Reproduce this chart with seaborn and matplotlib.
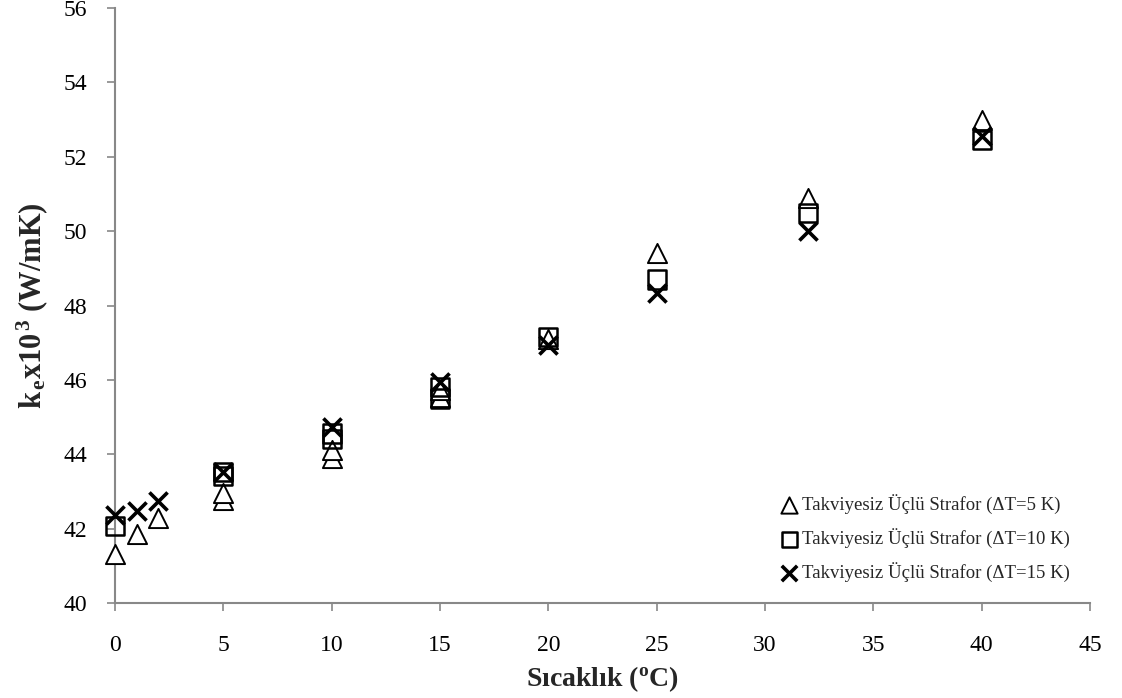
import matplotlib
matplotlib.use("Agg")
import matplotlib.pyplot as plt
import seaborn as sns
import pandas as pd

# ---- data ----
x_dt5 = [0, 1, 2, 5, 5, 10, 10, 15, 15, 20, 25, 32, 40]
y_dt5 = [41.32, 41.85, 42.3, 42.78, 42.96, 43.9, 44.12, 45.55, 45.72, 47.1, 49.4, 50.9, 53.0]

x_dt10 = [0, 5, 5, 10, 10, 15, 15, 20, 25, 32, 40]
y_dt10 = [42.07, 43.42, 43.52, 44.4, 44.56, 45.5, 45.8, 47.15, 48.7, 50.5, 52.45]

x_dt15 = [0, 1, 2, 5, 10, 15, 20, 25, 32, 40]
y_dt15 = [42.37, 42.47, 42.74, 43.52, 44.73, 45.95, 46.95, 48.35, 50.0, 52.55]

labels = ["Takviyesiz Üçlü Strafor (ΔT=5 K)",
          "Takviyesiz Üçlü Strafor (ΔT=10 K)",
          "Takviyesiz Üçlü Strafor (ΔT=15 K)"]
x_ticks = [0, 5, 10, 15, 20, 25, 30, 35, 40, 45]
y_ticks = [40, 42, 44, 46, 48, 50, 52, 54, 56]

df5 = pd.DataFrame({"x": x_dt5, "y": y_dt5})
df10 = pd.DataFrame({"x": x_dt10, "y": y_dt10})
df15 = pd.DataFrame({"x": x_dt15, "y": y_dt15})

sns.set_theme(style="white")
plt.rcParams["font.family"] = ["Liberation Serif", "DejaVu Serif"]
plt.rcParams["mathtext.fontset"] = "custom"
plt.rcParams["mathtext.rm"] = "Liberation Serif"
plt.rcParams["mathtext.it"] = "Liberation Serif:italic"
plt.rcParams["mathtext.bf"] = "Liberation Serif:bold"

fig = plt.figure(figsize=(11.22, 6.98), dpi=100)
ax = fig.add_axes([0.1025, 0.136, 0.869, 0.8525])

sns.scatterplot(data=df5, x="x", y="y", ax=ax, marker="^", s=190,
                facecolor="white", edgecolor="black", linewidth=1.4,
                label=labels[0], zorder=3, clip_on=False)
sns.scatterplot(data=df10, x="x", y="y", ax=ax, marker="s", s=170,
                facecolor="none", edgecolor="black", linewidth=1.8,
                label=labels[1], zorder=4, clip_on=False)
sns.scatterplot(data=df15, x="x", y="y", ax=ax, marker="x", s=170,
                color="black", linewidth=2.6,
                label=labels[2], zorder=5, clip_on=False)

ax.set_xlim(0, 45)
ax.set_ylim(40, 56)
ax.set_xticks(x_ticks)
ax.set_yticks(y_ticks)
ax.tick_params(axis="both", labelsize=17, colors="#888888", labelcolor="black",
               length=6, width=1.2, direction="out", bottom=True, left=True)
for side in ["top", "right"]:
    ax.spines[side].set_visible(False)
for side in ["left", "bottom"]:
    ax.spines[side].set_color("#888888")
    ax.spines[side].set_linewidth(1.5)
ax.xaxis.set_tick_params(pad=17)
ax.yaxis.set_tick_params(pad=14)

ax.set_xlabel(r"Sıcaklık ($^{\mathbf{o}}$C)", fontsize=20, fontweight="bold", labelpad=6)
ax.set_ylabel(r"$\mathbf{k_{\,e}x10^{\,3}}$ (W/mK)", fontsize=22, fontweight="bold", labelpad=10)
ax.grid(False)

leg = ax.legend(loc="lower right", frameon=False, fontsize=13.5,
                handletextpad=0.05, borderaxespad=0.7, labelspacing=0.75,
                markerscale=0.85, handlelength=1.2)

fig.savefig("out.png", dpi=100)
